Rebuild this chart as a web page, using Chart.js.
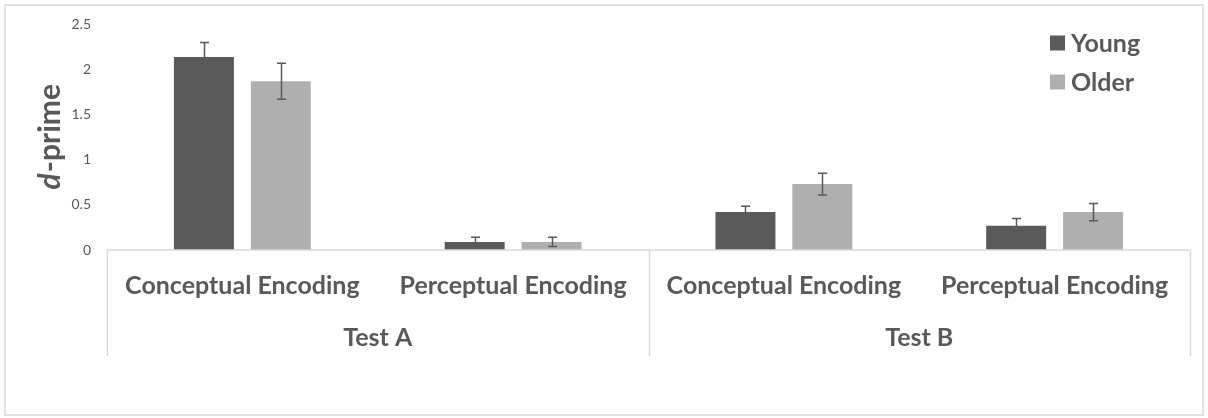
<!DOCTYPE html>
<html>
<head>
<meta charset="utf-8">
<script src="https://cdn.jsdelivr.net/npm/chart.js@4.4.1/dist/chart.umd.min.js"></script>
<style>
  html, body { margin: 0; padding: 0; background: #ffffff; }
  #wrap { width: 1208px; height: 418px; position: relative; }
</style>
</head>
<body>
<div id="wrap"><canvas id="chart" width="1208" height="418"></canvas></div>
<script>
// Conditions along the x axis, grouped by test
const categories = ['Conceptual Encoding', 'Perceptual Encoding', 'Conceptual Encoding', 'Perceptual Encoding'];
const groups = ['Test A', 'Test B'];
const groupSpan = 2; // categories per test

// Mean d-prime per age group and standard errors
const seriesNames = ['Young', 'Older'];
const youngMeans = [2.14, 0.09, 0.42, 0.27];
const olderMeans = [1.87, 0.09, 0.73, 0.42];
const youngErr = [0.16, 0.05, 0.065, 0.08];
const olderErr = [0.20, 0.05, 0.12, 0.095];

// Value axis ticks
const yTicks = [0, 0.5, 1, 1.5, 2, 2.5];

const TEXT = '#595959';
const LINE = '#d9d9d9';
const COLORS = ['#5a5a5a', '#afafaf'];
const FONT = 'Lato, "Open Sans", sans-serif';

const errors = [youngErr, olderErr];

const framePlugin = {
  id: 'frame',
  beforeDraw(chart) {
    const { ctx, width, height } = chart;
    ctx.save();
    ctx.fillStyle = '#ffffff';
    ctx.fillRect(0, 0, width, height);
    ctx.strokeStyle = LINE;
    ctx.lineWidth = 1.5;
    ctx.strokeRect(5, 5, width - 10, height - 8);
    ctx.restore();
  }
};

const axisPlugin = {
  id: 'multiAxis',
  afterDraw(chart) {
    const { ctx, chartArea } = chart;
    const x = chart.scales.x;
    const half = (x.getPixelForValue(1) - x.getPixelForValue(0)) / 2;
    const base = chartArea.bottom;
    ctx.save();
    ctx.strokeStyle = LINE;
    ctx.lineWidth = 1.5;
    ctx.beginPath();
    ctx.moveTo(chartArea.left, base);
    ctx.lineTo(chartArea.right, base);
    for (let g = 0; g <= groups.length; g++) {
      const idx = g * groupSpan;
      const px = idx < categories.length
        ? x.getPixelForValue(idx) - half
        : x.getPixelForValue(categories.length - 1) + half;
      ctx.moveTo(Math.round(px) + 0.5, base);
      ctx.lineTo(Math.round(px) + 0.5, base + 106);
    }
    ctx.stroke();

    ctx.fillStyle = TEXT;
    ctx.font = 'bold 25px ' + FONT;
    ctx.textAlign = 'center';
    ctx.textBaseline = 'middle';
    groups.forEach((label, g) => {
      const a = x.getPixelForValue(g * groupSpan) - half;
      const b = x.getPixelForValue(g * groupSpan + groupSpan - 1) + half;
      ctx.fillText(label, (a + b) / 2, base + 88);
    });
    ctx.restore();
  }
};

const errorBarPlugin = {
  id: 'errorBars',
  afterDatasetsDraw(chart) {
    const { ctx } = chart;
    const y = chart.scales.y;
    ctx.save();
    ctx.strokeStyle = TEXT;
    ctx.lineWidth = 1.5;
    chart.data.datasets.forEach((ds, di) => {
      const meta = chart.getDatasetMeta(di);
      meta.data.forEach((bar, i) => {
        const v = ds.data[i];
        const e = errors[di][i];
        const top = y.getPixelForValue(v + e);
        const bot = y.getPixelForValue(v - e);
        const cx = Math.round(bar.x) + 0.5;
        ctx.beginPath();
        ctx.moveTo(cx, top); ctx.lineTo(cx, bot);
        ctx.moveTo(cx - 4.5, top); ctx.lineTo(cx + 4.5, top);
        ctx.moveTo(cx - 4.5, bot); ctx.lineTo(cx + 4.5, bot);
        ctx.stroke();
      });
    });
    ctx.restore();
  }
};

const titlePlugin = {
  id: 'yTitle',
  afterDraw(chart) {
    const { ctx, chartArea } = chart;
    const italic = 'italic bold 30px ' + FONT;
    const upright = 'bold 30px ' + FONT;
    ctx.save();
    ctx.font = italic;
    const w1 = ctx.measureText('d').width;
    ctx.font = upright;
    const w2 = ctx.measureText('-prime').width;
    const cy = (chartArea.top + chartArea.bottom) / 2;
    ctx.translate(50, cy);
    ctx.rotate(-Math.PI / 2);
    ctx.fillStyle = TEXT;
    ctx.textBaseline = 'middle';
    ctx.textAlign = 'left';
    const start = -(w1 + w2) / 2;
    ctx.font = italic;
    ctx.fillText('d', start, 0);
    ctx.font = upright;
    ctx.fillText('-prime', start + w1 + 1, 0);
    ctx.restore();
  }
};

const legendPlugin = {
  id: 'boxLegend',
  afterDraw(chart) {
    const { ctx } = chart;
    ctx.save();
    ctx.font = 'bold 25px ' + FONT;
    ctx.textBaseline = 'middle';
    ctx.textAlign = 'left';
    chart.data.datasets.forEach((ds, i) => {
      const cy = 43 + i * 39;
      ctx.fillStyle = ds.backgroundColor;
      ctx.fillRect(1050, cy - 7.5, 15, 15);
      ctx.fillStyle = TEXT;
      ctx.fillText(ds.label, 1071, cy + 1);
    });
    ctx.restore();
  }
};

new Chart(document.getElementById('chart'), {
  type: 'bar',
  data: {
    labels: categories,
    datasets: [
      { label: seriesNames[0], data: youngMeans, backgroundColor: COLORS[0] },
      { label: seriesNames[1], data: olderMeans, backgroundColor: COLORS[1] }
    ]
  },
  options: {
    responsive: false,
    animation: false,
    devicePixelRatio: 1,
    layout: { padding: { left: 0, right: 18, top: 24, bottom: 0 } },
    datasets: { bar: { categoryPercentage: 0.568, barPercentage: 0.78 } },
    plugins: { legend: { display: false }, tooltip: { enabled: false } },
    scales: {
      x: {
        type: 'category',
        offset: true,
        grid: { display: false, drawTicks: false },
        border: { display: false },
        ticks: {
          color: TEXT,
          font: { family: FONT, weight: 'bold', size: 25 },
          padding: 21,
          maxRotation: 0,
          autoSkip: false
        },
        afterFit(s) { s.height = 168; }
      },
      y: {
        min: 0,
        max: 2.5,
        grid: { display: false, drawTicks: false },
        border: { display: false },
        ticks: {
          color: TEXT,
          font: { family: FONT, size: 14 },
          padding: 16,
          callback: (v) => String(v)
        },
        afterBuildTicks(s) { s.ticks = yTicks.map(v => ({ value: v })); },
        afterFit(s) { s.width = 107; }
      }
    }
  },
  plugins: [framePlugin, axisPlugin, errorBarPlugin, titlePlugin, legendPlugin]
});
</script>
</body>
</html>
